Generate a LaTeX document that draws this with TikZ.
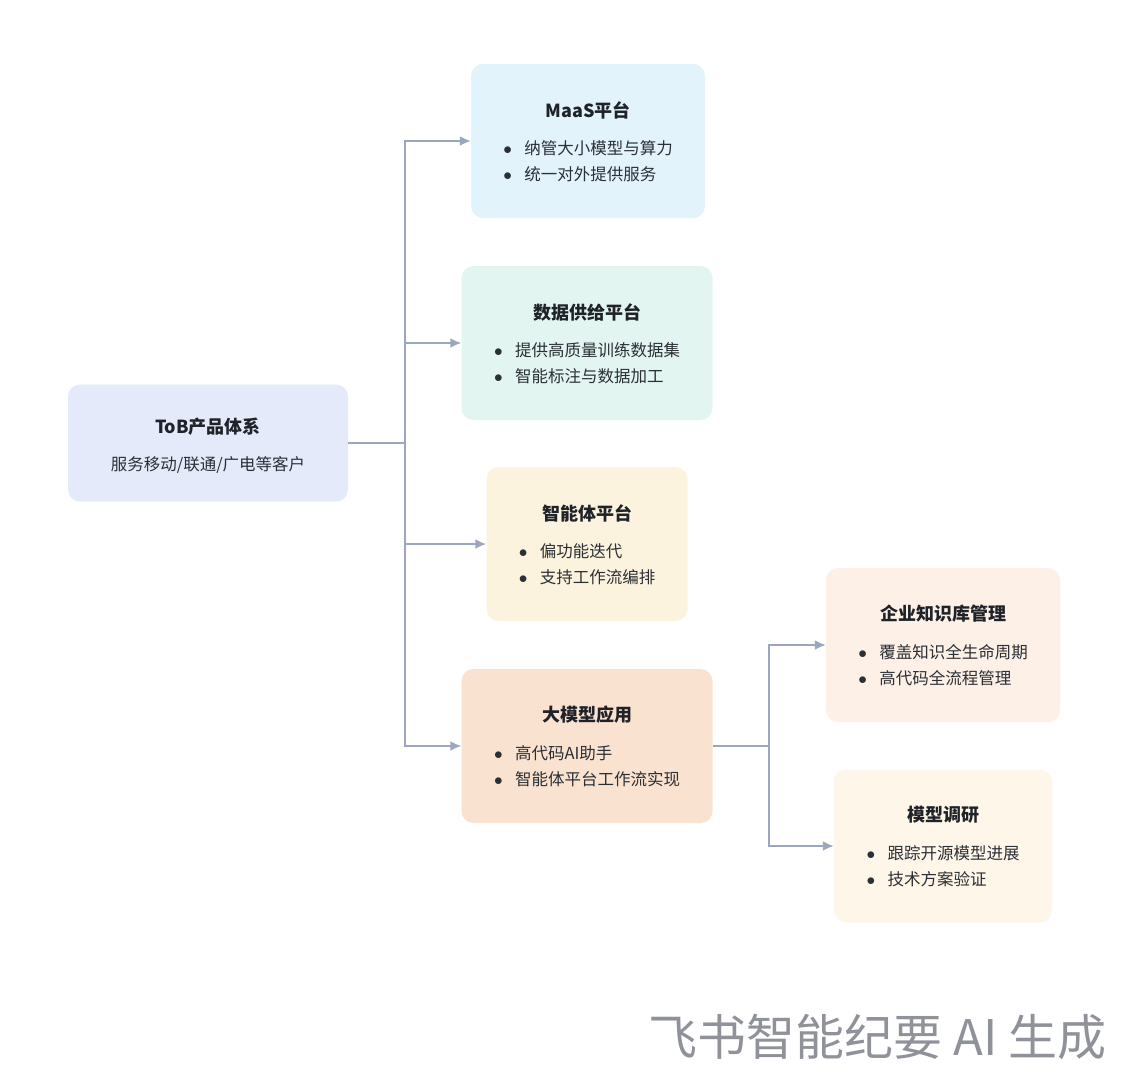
\documentclass[tikz,border=0pt]{standalone}
\usepackage{fontspec}
\setmainfont{Noto Sans CJK SC}
\usetikzlibrary{arrows.meta,positioning,calc}
\definecolor{linkgray}{HTML}{9AA7BD}
\definecolor{inkdark}{HTML}{1F2329}
\definecolor{inkbody}{HTML}{2B2F36}
\definecolor{rootfill}{HTML}{E5EAFB}
\definecolor{maasfill}{HTML}{E3F3FC}
\definecolor{datafill}{HTML}{E3F5F0}
\definecolor{agentfill}{HTML}{FBF3DD}
\definecolor{appfill}{HTML}{F9E2CF}
\definecolor{kbfill}{HTML}{FDF0E6}
\definecolor{researchfill}{HTML}{FEF6E8}
\definecolor{markgray}{HTML}{8F9299}
\tikzset{
    card/.style={
        rounded corners=12pt,
        inner sep=0pt
    },
    heading/.style={
        font=\fontsize{18}{22}\selectfont\bfseries,
        text=inkdark
    },
    items/.style={
        font=\fontsize{16.5}{26}\selectfont,
        align=left,
        text=inkbody
    },
    link/.style={draw=linkgray, line width=2pt},
    flow/.style={link, -{Latex[length=11pt,width=10pt]}}
}
\newcommand{\bul}[1]{\makebox[21pt][l]{$\bullet$}#1}
\newcommand{\card}[7]{%
    \node[card, fill=#5, minimum width=#3, minimum height=#4] (#1) at (#2) {};
    \node[heading] (#1-title) at ($(#1.center)+(0,-31)$) {#6};
    \node[items] (#1-items) at ($(#1.center)+(0,20)$) {#7};
}

\begin{document}
\begin{tikzpicture}[x=1pt, y=-1pt]
    \useasboundingbox[fill=white] (0,0) rectangle (1129,1080);

    % root
    \node[card, fill=rootfill, minimum width=280pt, minimum height=117pt] (root) at (208,443) {};
    \node[heading] (root-title) at ($(root.center)+(0,-16)$) {ToB产品体系};
    \node[items] (root-sub) at ($(root.center)+(0,22)$) {服务移动/联通/广电等客户};

    % first level
    \card{maas}{588,141}{234pt}{154pt}{maasfill}{MaaS平台}{\bul{纳管大小模型与算力}\\\bul{统一对外提供服务}}
    \card{data}{587,343}{251pt}{154pt}{datafill}{数据供给平台}{\bul{提供高质量训练数据集}\\\bul{智能标注与数据加工}}
    \card{agent}{587,544}{201pt}{154pt}{agentfill}{智能体平台}{\bul{偏功能迭代}\\\bul{支持工作流编排}}
    \card{app}{587,746}{251pt}{154pt}{appfill}{大模型应用}{\bul{高代码AI助手}\\\bul{智能体平台工作流实现}}

    % second level
    \card{kb}{943,645}{234pt}{154pt}{kbfill}{企业知识库管理}{\bul{覆盖知识全生命周期}\\\bul{高代码全流程管理}}
    \card{research}{943,846}{218pt}{153pt}{researchfill}{模型调研}{\bul{跟踪开源模型进展}\\\bul{技术方案验证}}

    % connectors
    \coordinate (hub) at (405,443);
    \draw[link] (root.east) -- (hub);
    \foreach \dst in {maas,data,agent,app}
        \draw[flow] (hub) |- (\dst.west);

    \coordinate (subhub) at (769,746);
    \draw[link] (app.east) -- (subhub);
    \foreach \dst in {kb,research}
        \draw[flow] (subhub) |- (\dst.west);

    % watermark
    \node[anchor=east, text=markgray, font=\fontsize{49}{53}\selectfont] (mark) at (1110,1037) {飞书智能纪要 AI 生成};
\end{tikzpicture}
\end{document}
